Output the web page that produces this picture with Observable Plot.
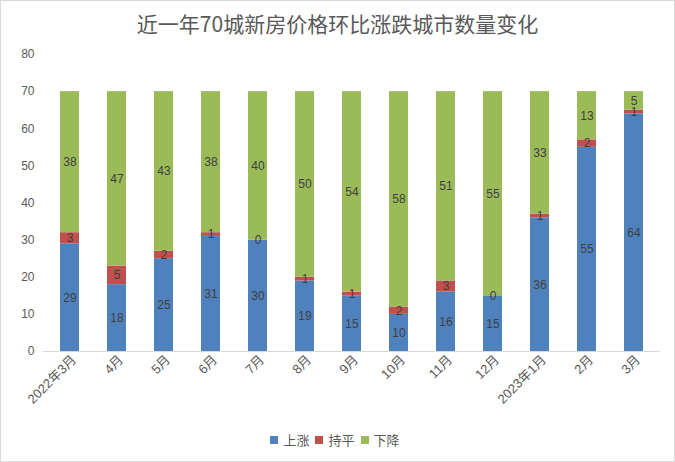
<!DOCTYPE html>
<html>
<head>
<meta charset="utf-8">
<script src="https://cdn.jsdelivr.net/npm/d3@7"></script>
<script src="https://cdn.jsdelivr.net/npm/@observablehq/plot@0.6"></script>
<style>
  body { margin: 0; background: #fff; }
  #frame { box-sizing: border-box; width: 675px; height: 462px; border: 1px solid #d9d9d9; background: #fff;
    font-family: "Liberation Sans", "Noto Sans CJK SC", sans-serif; overflow: hidden; }
  #title { height: 45px; line-height: 44px; text-align: center; font-size: 21px; color: #595959;
    font-family: "Noto Sans CJK SC", sans-serif; }
  #legend { display: flex; justify-content: center; gap: 6px; padding-top: 4px; font-size: 13px; color: #595959;
    font-family: "Noto Sans CJK SC", sans-serif; padding-right: 5px; }
  #legend span.item { display: flex; align-items: center; gap: 5px; }
  #legend span.sw { width: 8px; height: 8px; display: inline-block; }
</style>
</head>
<body>
<div id="frame">
  <div id="title">近一年70城新房价格环比涨跌城市数量变化</div>
  <div id="chart"></div>
  <div id="legend"></div>
</div>
<script>
const months = ["2022年3月","4月","5月","6月","7月","8月","9月","10月","11月","12月","2023年1月","2月","3月"];
const seriesNames = ["上涨","持平","下降"];
const up   = [29,18,25,31,30,19,15,10,16,15,36,55,64];
const flat = [3,5,2,1,0,1,1,2,3,0,1,2,1];
const down = [38,47,43,38,40,50,54,58,51,55,33,13,5];
const yTicks = [0,10,20,30,40,50,60,70,80];
const colors = ["#4f81bd","#c0504d","#9bbb59"];

const seriesValues = [up, flat, down];
const data = [];
months.forEach((m, i) => {
  seriesNames.forEach((s, j) => data.push({month: m, type: s, value: seriesValues[j][i]}));
});

const chart = Plot.plot({
  width: 673,
  height: 380,
  marginLeft: 42,
  marginRight: 14,
  marginTop: 8,
  marginBottom: 75,
  style: {fontFamily: '"Liberation Sans", "Noto Sans CJK SC", sans-serif', fontSize: "12px", color: "#595959", background: "#fff"},
  x: {domain: months, paddingInner: 0.6, paddingOuter: 0.3, label: null},
  y: {domain: [0, 80], label: null},
  color: {domain: seriesNames, range: colors},
  marks: [
    Plot.axisY({ticks: yTicks, tickSize: 0, tickPadding: 9, label: null, fontSize: 12, fill: "#595959"}),
    Plot.axisX({tickSize: 0, tickRotate: -45, tickPadding: 6, label: null, fontSize: 13, fill: "#595959", dx: 4,
      fontFamily: '"Liberation Sans", "Noto Sans CJK SC", sans-serif'}),
    Plot.barY(data, {x: "month", y: "value", fill: "type", order: null}),
    Plot.ruleY([0], {stroke: "#d9d9d9", strokeWidth: 1}),
    Plot.text(data, Plot.stackY({x: "month", y: "value", z: "type", order: null, text: d => String(d.value),
      fill: "#404040", fontSize: 12}))
  ]
});
document.getElementById("chart").appendChild(chart);

const legend = document.getElementById("legend");
seriesNames.forEach((s, j) => {
  const item = document.createElement("span");
  item.className = "item";
  item.innerHTML = `<span class="sw" style="background:${colors[j]}"></span><span>${s}</span>`;
  legend.appendChild(item);
});
</script>
</body>
</html>
